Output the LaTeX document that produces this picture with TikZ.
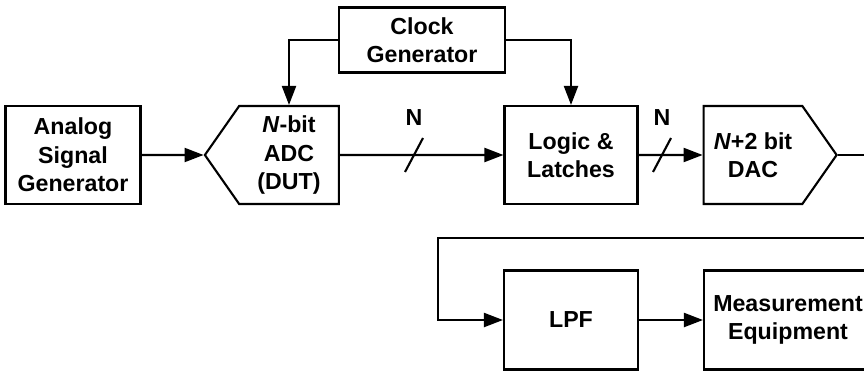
\documentclass[tikz,border=0pt]{standalone}
\usepackage{fontspec}
\setmainfont{Liberation Sans}
\usetikzlibrary{arrows.meta,positioning,calc,shapes.symbols}

\begin{document}
\begin{tikzpicture}[x=0.02cm, y=-0.02cm, line width=1.2pt,
  blk/.style={draw, font=\bfseries\fontsize{13.2}{16.2}\selectfont, align=center, inner sep=0pt, minimum height=1.96cm},
  conv/.style={blk, signal, signal pointer angle=110},
  arr/.style={-{Triangle[length=0.38cm,width=0.28cm]}},
  lbl/.style={font=\bfseries\fontsize{13.2}{16.2}\selectfont}]
\useasboundingbox (0,0) rectangle (864,372);
% Blocks
\node[blk, minimum width=2.7cm] (asg) at (73,155) {Analog\\Signal\\Generator};
\node[conv, signal to=west, minimum width=2.68cm] (adc) at (289,155) {\textit{N}-bit\\ADC\\(DUT)};
\node[blk, minimum width=3.32cm, minimum height=1.3cm] (clk) at (422,40) {Clock\\Generator};
\node[blk, minimum width=2.66cm] (logic) at (571,155) {Logic \&\\Latches};
\node[conv, signal to=east, minimum width=2.66cm] (dac) at (753,155) {\textit{N}+2 bit\\DAC};
\node[blk, minimum width=2.68cm, minimum height=1.98cm] (lpf) at (571,320) {LPF};
\node[blk, minimum width=3.36cm, minimum height=1.98cm] (meas) at (788,320) {Measurement\\Equipment};
% Signal path
\draw[arr] (asg) -- (adc);
\draw[arr] (adc) -- (logic);
\draw[arr] (logic) -- (dac);
\draw[arr] (lpf) -- (meas);
% Clock lines
\draw[arr] (clk.west) -| (adc.north);
\draw[arr] (clk.east) -| (logic.north);
% Feedback to the filter
\coordinate (fbR) at (880,155);
\coordinate (fbL) at (438,238);
\draw[arr] (dac.east) -- (fbR) |- (fbL) |- (lpf.west);
% Bus width marks
\draw (414,155) ++(-9,17) -- ++(18,-34);
\node[lbl] (n1) at (414,118) {N};
\draw (662,155) ++(-9,17) -- ++(18,-34);
\node[lbl] (n2) at (662,118) {N};
\end{tikzpicture}
\end{document}
